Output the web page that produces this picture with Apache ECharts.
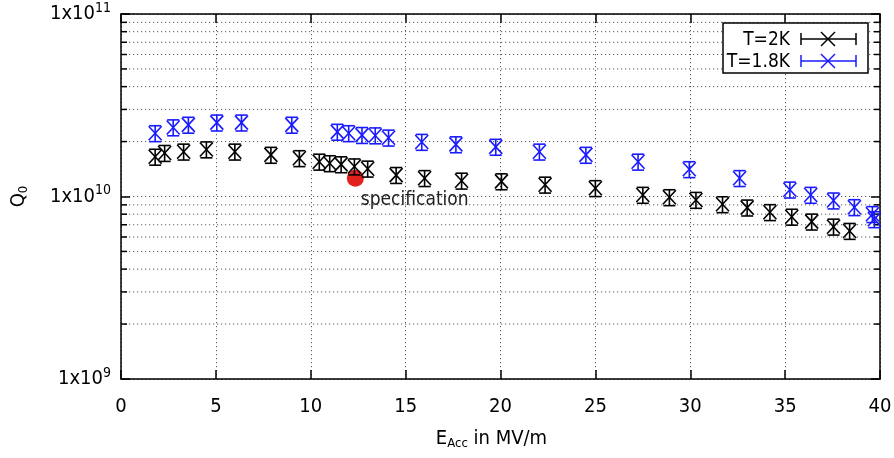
<!DOCTYPE html>
<html>
<head>
<meta charset="utf-8">
<script src="https://cdn.jsdelivr.net/npm/echarts@6/dist/echarts.min.js"></script>
<style>
html,body{margin:0;padding:0;background:#fff;}
#chart{width:894px;height:458px;}
</style>
</head>
<body>
<div id="chart"></div>
<script>
// ---- data ----
const t2kE = [1.8, 2.3, 3.3, 4.5, 6.0, 7.9, 9.4, 10.45, 11.0, 11.6, 12.3, 13.0, 14.5, 16.0, 17.95, 20.05, 22.35, 25.0, 27.5, 28.9, 30.3, 31.7, 33.0, 34.2, 35.35, 36.4, 37.55, 38.4];
const t2kQ = [1.65e10, 1.73e10, 1.76e10, 1.81e10, 1.76e10, 1.69e10, 1.62e10, 1.55e10, 1.52e10, 1.50e10, 1.46e10, 1.42e10, 1.31e10, 1.26e10, 1.22e10, 1.21e10, 1.16e10, 1.11e10, 1.02e10, 9.9e9, 9.57e9, 9.06e9, 8.69e9, 8.2e9, 7.74e9, 7.28e9, 6.83e9, 6.47e9];
const t18kE = [1.8, 2.75, 3.55, 5.05, 6.35, 9.0, 11.4, 12.0, 12.7, 13.4, 14.1, 15.85, 17.65, 19.75, 22.05, 24.5, 27.25, 29.95, 32.6, 35.25, 36.35, 37.55, 38.65, 39.6, 39.7];
const t18kQ = [2.22e10, 2.39e10, 2.47e10, 2.54e10, 2.54e10, 2.47e10, 2.26e10, 2.22e10, 2.17e10, 2.16e10, 2.10e10, 1.99e10, 1.93e10, 1.87e10, 1.76e10, 1.69e10, 1.55e10, 1.41e10, 1.26e10, 1.09e10, 1.02e10, 9.5e9, 8.73e9, 8.0e9, 7.5e9];
const relErr = 0.1;
const specE = [12.35];
const specQ = [1.26e10];
const specLabel = 'specification';
const xTicks = [0, 5, 10, 15, 20, 25, 30, 35, 40];
const yMinorTicks = [2e9, 3e9, 4e9, 5e9, 6e9, 7e9, 8e9, 9e9, 2e10, 3e10, 4e10, 5e10, 6e10, 7e10, 8e10, 9e10];
const seriesNames = ['T=2K', 'T=1.8K'];

// ---- styles ----
const FONT = "'DejaVu Sans Condensed', 'DejaVu Sans', sans-serif";
const BLACK = '#000000';
const BLUE = '#1a1aff';
const GRIDCOL = '#5a5a5a';

const chart = echarts.init(document.getElementById('chart'), null, {renderer: 'canvas'});

function errRender(color) {
  return function (params, api) {
    const x = api.value(0), v = api.value(1);
    const c = api.coord([x, v]);
    const top = api.coord([x, v * (1 + relErr)]);
    const bot = api.coord([x, v * (1 - relErr)]);
    const cw = 6, dx = 6.5, dy = 7;
    const st = {stroke: color, lineWidth: 1.6, fill: null};
    return {
      type: 'group',
      children: [
        {type: 'line', shape: {x1: c[0], y1: top[1], x2: c[0], y2: bot[1]}, style: st},
        {type: 'line', shape: {x1: c[0] - cw, y1: top[1], x2: c[0] + cw, y2: top[1]}, style: st},
        {type: 'line', shape: {x1: c[0] - cw, y1: bot[1], x2: c[0] + cw, y2: bot[1]}, style: st},
        {type: 'line', shape: {x1: c[0] - dx, y1: c[1] - dy, x2: c[0] + dx, y2: c[1] + dy}, style: st},
        {type: 'line', shape: {x1: c[0] - dx, y1: c[1] + dy, x2: c[0] + dx, y2: c[1] - dy}, style: st}
      ]
    };
  };
}

function minorRender(params, api) {
  const cs = params.coordSys;
  const y = api.coord([0, api.value(1)])[1];
  return {
    type: 'group',
    children: [
      {type: 'line', shape: {x1: cs.x, y1: y, x2: cs.x + cs.width, y2: y},
       style: {stroke: GRIDCOL, lineWidth: 1, lineDash: [1.2, 2.8]}},
      {type: 'line', shape: {x1: cs.x, y1: y, x2: cs.x + 6, y2: y}, style: {stroke: BLACK, lineWidth: 1.5}},
      {type: 'line', shape: {x1: cs.x + cs.width - 6, y1: y, x2: cs.x + cs.width, y2: y}, style: {stroke: BLACK, lineWidth: 1.5}}
    ]
  };
}

const axisLineStyle = {show: true, onZero: false, lineStyle: {color: BLACK, width: 1.5}};
const tickStyle = {show: true, inside: true, length: 9, lineStyle: {color: BLACK, width: 1.5}};

const option = {
  animation: false,
  backgroundColor: '#ffffff',
  textStyle: {fontFamily: FONT},
  grid: {left: 121, right: 14, top: 14, bottom: 79, containLabel: false, outerBoundsMode: 'none'},
  xAxis: [
    {
      type: 'value', min: xTicks[0], max: xTicks[xTicks.length - 1], interval: 5, position: 'bottom',
      axisLine: axisLineStyle, axisTick: tickStyle,
      axisLabel: {color: BLACK, fontSize: 20, fontFamily: FONT, margin: 18},
      splitLine: {show: true, lineStyle: {color: GRIDCOL, width: 1, type: [1.2, 2.8]}},
      name: '{m|E}{s|Acc}{m| in MV/m}', nameLocation: 'middle', nameGap: 49,
      nameTextStyle: {padding: [0, 18, 0, 0], rich: {
        m: {fontSize: 20, fontFamily: FONT, color: BLACK},
        s: {fontSize: 13, fontFamily: FONT, color: BLACK, padding: [9, 0, 0, 0]}
      }}
    },
    {
      type: 'value', min: xTicks[0], max: xTicks[xTicks.length - 1], interval: 5, position: 'top',
      axisLine: axisLineStyle, axisTick: tickStyle, axisLabel: {show: false}, splitLine: {show: false}
    }
  ],
  yAxis: [
    {
      type: 'log', logBase: 10, min: 1e9, max: 1e11, splitNumber: 2, position: 'left',
      axisLine: axisLineStyle, axisTick: tickStyle,
      axisLabel: {
        color: BLACK, margin: 10, fontFamily: FONT,
        formatter: function (v) { return '{m|1x10}{s|' + Math.round(Math.log10(v)) + '}'; },
        rich: {
          m: {fontSize: 20, fontFamily: FONT, color: BLACK},
          s: {fontSize: 14, fontFamily: FONT, color: BLACK, padding: [0, 0, 12, 0]}
        }
      },
      splitLine: {show: true, lineStyle: {color: GRIDCOL, width: 1, type: [1.2, 2.8]}},
      name: '{m|Q}{s|0}', nameLocation: 'middle', nameGap: 91, nameRotate: 90,
      nameTextStyle: {rich: {
        m: {fontSize: 20, fontFamily: FONT, color: BLACK},
        s: {fontSize: 13, fontFamily: FONT, color: BLACK, padding: [9, 0, 0, 0]}
      }}
    },
    {
      type: 'log', logBase: 10, min: 1e9, max: 1e11, splitNumber: 2, position: 'right',
      axisLine: axisLineStyle, axisTick: tickStyle, axisLabel: {show: false}, splitLine: {show: false}
    }
  ],
  series: [
    {
      name: 'minor', type: 'custom', xAxisIndex: 0, yAxisIndex: 0, silent: true, z: 1,
      renderItem: minorRender, data: yMinorTicks.map(v => [0, v])
    },
    {
      name: 'spec', type: 'scatter', xAxisIndex: 0, yAxisIndex: 0, z: 2,
      symbol: 'circle', symbolSize: 17, itemStyle: {color: '#e3201b', opacity: 1},
      data: specE.map((e, i) => [e, specQ[i]]),
      label: {show: true, formatter: specLabel, position: [14, 21], align: 'left', verticalAlign: 'top',
              fontSize: 19, fontFamily: FONT, color: '#222'}
    },
    {
      name: seriesNames[0], type: 'custom', xAxisIndex: 0, yAxisIndex: 0, z: 3,
      renderItem: errRender(BLACK), data: t2kE.map((e, i) => [e, t2kQ[i]])
    },
    {
      name: seriesNames[1], type: 'custom', xAxisIndex: 0, yAxisIndex: 0, z: 4,
      renderItem: errRender(BLUE), data: t18kE.map((e, i) => [e, t18kQ[i]])
    }
  ],
  graphic: [
    {type: 'rect', z: 100, shape: {x: 723, y: 23, width: 145, height: 50},
     style: {fill: '#fff', stroke: BLACK, lineWidth: 1.5}},
    {type: 'text', z: 101, x: 790, y: 40, style: {text: seriesNames[0], fill: BLACK, font: '19px ' + FONT, textAlign: 'right', textVerticalAlign: 'middle'}},
    {type: 'text', z: 101, x: 790, y: 62, style: {text: seriesNames[1], fill: BLACK, font: '19px ' + FONT, textAlign: 'right', textVerticalAlign: 'middle'}},
    {type: 'group', z: 101, children: [
      {type: 'line', z: 101, shape: {x1: 801, y1: 39, x2: 856, y2: 39}, style: {stroke: BLACK, lineWidth: 1.5}},
      {type: 'line', z: 101, shape: {x1: 801, y1: 33, x2: 801, y2: 45}, style: {stroke: BLACK, lineWidth: 1.5}},
      {type: 'line', z: 101, shape: {x1: 856, y1: 33, x2: 856, y2: 45}, style: {stroke: BLACK, lineWidth: 1.5}},
      {type: 'line', z: 101, shape: {x1: 821, y1: 32, x2: 835, y2: 46}, style: {stroke: BLACK, lineWidth: 1.5}},
      {type: 'line', z: 101, shape: {x1: 821, y1: 46, x2: 835, y2: 32}, style: {stroke: BLACK, lineWidth: 1.5}},
      {type: 'line', z: 101, shape: {x1: 801, y1: 61, x2: 856, y2: 61}, style: {stroke: BLUE, lineWidth: 1.5}},
      {type: 'line', z: 101, shape: {x1: 801, y1: 55, x2: 801, y2: 67}, style: {stroke: BLUE, lineWidth: 1.5}},
      {type: 'line', z: 101, shape: {x1: 856, y1: 55, x2: 856, y2: 67}, style: {stroke: BLUE, lineWidth: 1.5}},
      {type: 'line', z: 101, shape: {x1: 821, y1: 54, x2: 835, y2: 68}, style: {stroke: BLUE, lineWidth: 1.5}},
      {type: 'line', z: 101, shape: {x1: 821, y1: 68, x2: 835, y2: 54}, style: {stroke: BLUE, lineWidth: 1.5}}
    ]}
  ]
};
chart.setOption(option);
</script>
</body>
</html>
